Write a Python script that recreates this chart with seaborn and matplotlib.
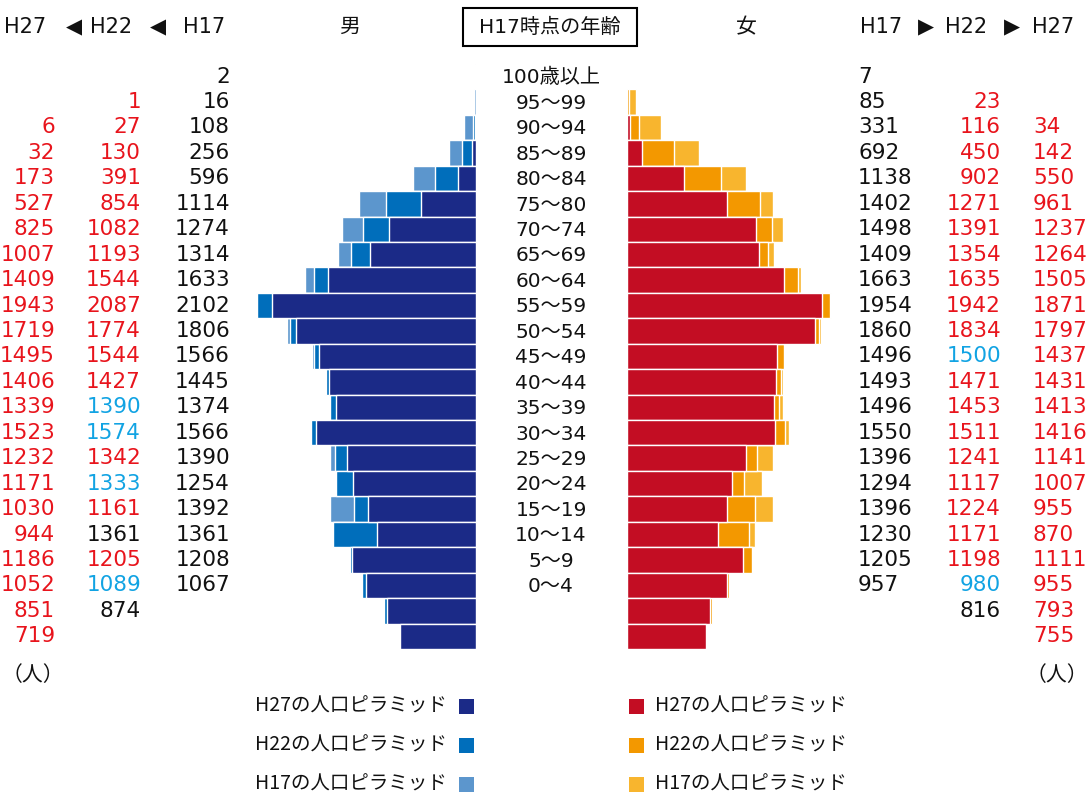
import matplotlib
matplotlib.use("Agg")
import matplotlib.pyplot as plt
import pandas as pd
import seaborn as sns
from matplotlib.patches import Rectangle
from matplotlib.transforms import blended_transform_factory

# Age groups as of H17 (the last two rows are cohorts born after H17)
age_labels = ["100歳以上", "95～99", "90～94", "85～89", "80～84", "75～80",
              "70～74", "65～69", "60～64", "55～59", "50～54", "45～49",
              "40～44", "35～39", "30～34", "25～29", "20～24", "15～19",
              "10～14", "5～9", "0～4", "", ""]

male_h17 = [2, 16, 108, 256, 596, 1114, 1274, 1314, 1633, 2102, 1806, 1566,
            1445, 1374, 1566, 1390, 1254, 1392, 1361, 1208, 1067, None, None]
male_h22 = [None, 1, 27, 130, 391, 854, 1082, 1193, 1544, 2087, 1774, 1544,
            1427, 1390, 1574, 1342, 1333, 1161, 1361, 1205, 1089, 874, None]
male_h27 = [None, None, 6, 32, 173, 527, 825, 1007, 1409, 1943, 1719, 1495,
            1406, 1339, 1523, 1232, 1171, 1030, 944, 1186, 1052, 851, 719]

female_h17 = [7, 85, 331, 692, 1138, 1402, 1498, 1409, 1663, 1954, 1860, 1496,
              1493, 1496, 1550, 1396, 1294, 1396, 1230, 1205, 957, None, None]
female_h22 = [None, 23, 116, 450, 902, 1271, 1391, 1354, 1635, 1942, 1834, 1500,
              1471, 1453, 1511, 1241, 1117, 1224, 1171, 1198, 980, 816, None]
female_h27 = [None, None, 34, 142, 550, 961, 1237, 1264, 1505, 1871, 1797, 1437,
              1431, 1413, 1416, 1141, 1007, 955, 870, 1111, 955, 793, 755]

legend_labels = ["H27の人口ピラミッド", "H22の人口ピラミッド", "H17の人口ピラミッド"]
male_colors = ["#1B2A87", "#006EBB", "#5C96CD"]      # H27, H22, H17
female_colors = ["#C30D23", "#F39800", "#F8B52E"]    # H27, H22, H17

TXT_RED = "#E8141C"
TXT_BLUE = "#11A3E3"
TXT_BLACK = "#111111"

sns.set_theme(style="white")
plt.rcParams["font.family"] = ["DejaVu Sans", "Noto Sans CJK JP"]

W, H = 1091, 796
fig = plt.figure(figsize=(W / 100, H / 100), dpi=100)
fig.patch.set_facecolor("white")


def px_box(left, top, right, bottom):
    return [left / W, 1 - bottom / H, (right - left) / W, (bottom - top) / H]


n_rows = len(age_labels)
row_keys = [str(i) for i in range(n_rows)]
XMAX = 2200
PX_PER = 0.1046
ROW_STEP = 25.44
ROW0 = 76.6
y_top = ROW0 - ROW_STEP / 2
y_bot = ROW0 + ROW_STEP * (n_rows - 0.5)
M_EDGE, F_EDGE = 475.7, 626.7

ax_m = fig.add_axes(px_box(M_EDGE - XMAX * PX_PER, y_top, M_EDGE, y_bot))
ax_f = fig.add_axes(px_box(F_EDGE, y_top, F_EDGE + XMAX * PX_PER, y_bot))


def draw_side(ax, series, colors):
    # oldest survey behind, newest in front
    for vals, col in zip(series[::-1], colors[::-1]):
        df = pd.DataFrame({"row": row_keys, "value": vals}).dropna()
        sns.barplot(data=df, x="value", y="row", order=row_keys, orient="h",
                    color=col, saturation=1, width=1.0, errorbar=None,
                    edgecolor="white", linewidth=1.0, ax=ax)


draw_side(ax_m, [male_h27, male_h22, male_h17], male_colors)
draw_side(ax_f, [female_h27, female_h22, female_h17], female_colors)
ax_m.set_xlim(XMAX, 0)
ax_f.set_xlim(0, XMAX)
for ax in (ax_m, ax_f):
    ax.set_ylim(n_rows - 0.5, -0.5)
    ax.axis("off")

trans = blended_transform_factory(fig.transFigure, ax_m.transData)
NUM_FS = 15.5


def text_color(cur, ref):
    if ref is None or cur == ref:
        return TXT_BLACK
    return TXT_RED if cur < ref else TXT_BLUE


def number_column(vals, prev_vals, x_px, ha, newborn_vs_previous=False):
    """Red = fewer than the previous survey, blue = more, black = same/none.
    For the newest-born cohort, optionally compare with the previous
    survey's newest-born cohort (one row above)."""
    for i, v in enumerate(vals):
        if v is None:
            continue
        ref = None
        if prev_vals is not None:
            ref = prev_vals[i]
            if ref is None and newborn_vs_previous and i > 0:
                ref = prev_vals[i - 1]
        ax_m.text(x_px / W, i, f"{v}", transform=trans, ha=ha, va="center",
                  fontsize=NUM_FS, color=text_color(v, ref))


number_column(male_h27, male_h22, 55, "right", newborn_vs_previous=True)
number_column(male_h22, male_h17, 141, "right")
number_column(male_h17, None, 230, "right")
number_column(female_h17, None, 858, "left")
number_column(female_h22, female_h17, 1001, "right")
number_column(female_h27, female_h22, 1033, "left", newborn_vs_previous=True)

for i, lab in enumerate(age_labels):
    if lab:
        ax_m.text(551 / W, i + 0.05, lab, transform=trans, ha="center",
                  va="center", fontsize=14.5, color=TXT_BLACK)

# header row
HEAD_Y = 1 - 27 / H
for x_px, s in [(25, "H27"), (74, "◀"), (111, "H22"), (158, "◀"), (204, "H17"),
                (881, "H17"), (926, "▶"), (966, "H22"), (1012, "▶"), (1053, "H27")]:
    fig.text(x_px / W, HEAD_Y, s, ha="center", va="center", fontsize=15,
             color=TXT_BLACK)
fig.text(350 / W, HEAD_Y, "男", ha="center", va="center", fontsize=15,
         family=["Noto Sans CJK JP"], color=TXT_BLACK)
fig.text(746 / W, HEAD_Y, "女", ha="center", va="center", fontsize=15,
         family=["Noto Sans CJK JP"], color=TXT_BLACK)
fig.text(550 / W, HEAD_Y, "H17時点の年齢", ha="center", va="center",
         fontsize=14.5, color=TXT_BLACK)
fig.add_artist(Rectangle((463 / W, 1 - 46 / H), 174 / W, 38 / H,
                         transform=fig.transFigure, fill=False,
                         edgecolor="black", linewidth=1.5))

# unit labels
for x_px in (33, 1057):
    fig.text(x_px / W, 1 - 675 / H, "（人）", ha="center", va="center",
             fontsize=15, family=["Noto Sans CJK JP"], color=TXT_BLACK)

# legends
SQ = 15
for k, y_px in enumerate([706, 745, 784]):
    fig.text(447 / W, 1 - y_px / H, legend_labels[k], ha="right", va="center",
             fontsize=14, family=["Noto Sans CJK JP"], color=TXT_BLACK)
    fig.add_artist(Rectangle((459 / W, 1 - (y_px + SQ / 2) / H), SQ / W, SQ / H,
                             transform=fig.transFigure,
                             facecolor=male_colors[k], edgecolor="none"))
    fig.add_artist(Rectangle((629 / W, 1 - (y_px + SQ / 2) / H), SQ / W, SQ / H,
                             transform=fig.transFigure,
                             facecolor=female_colors[k], edgecolor="none"))
    fig.text(655 / W, 1 - y_px / H, legend_labels[k], ha="left", va="center",
             fontsize=14, family=["Noto Sans CJK JP"], color=TXT_BLACK)

fig.savefig("out.png", dpi=100, facecolor="white")
